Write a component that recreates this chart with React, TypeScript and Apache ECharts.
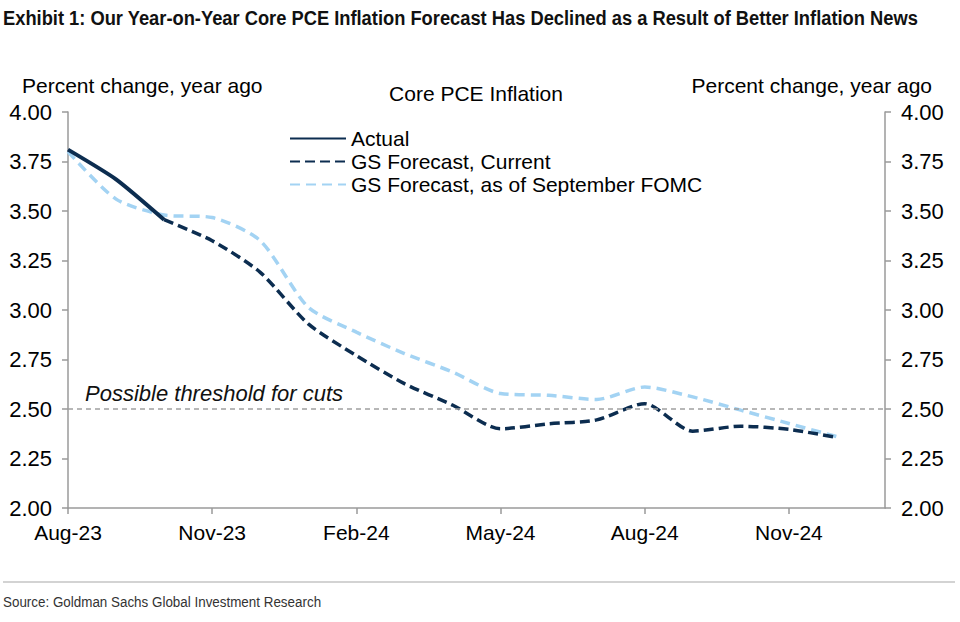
import React, { useEffect, useRef } from "react";
import * as echarts from "echarts";

const months = [
  "Aug-23", "Sep-23", "Oct-23", "Nov-23", "Dec-23", "Jan-24", "Feb-24", "Mar-24", "Apr-24",
  "May-24", "Jun-24", "Jul-24", "Aug-24", "Sep-24", "Oct-24", "Nov-24", "Dec-24", "Jan-25",
];
const actual = [3.81, 3.66, 3.456, null, null, null, null, null, null, null, null, null, null, null, null, null, null, null];
const gsCurrent = [null, null, 3.456, 3.35, 3.19, 2.93, 2.77, 2.628, 2.52, 2.40, 2.425, 2.445, 2.527, 2.388, 2.413, 2.397, 2.356, null];
const gsSeptember = [3.80, 3.56, 3.48, 3.467, 3.35, 3.014, 2.888, 2.78, 2.687, 2.578, 2.569, 2.548, 2.611, 2.561, 2.494, 2.427, 2.36, null];
const threshold = 2.5;

const FONT = "'Liberation Sans', Arial, Helvetica, sans-serif";
const DARK = "#0c2d50";
const LIGHT = "#a3d3f3";
const AXIS = "#9a9a9a";

export default function App() {
  const ref = useRef<HTMLDivElement>(null);
  useEffect(() => {
    if (!ref.current) return;
    const chart = echarts.init(ref.current, null, { renderer: "svg" });
    const yAxisCommon = {
      type: "value",
      min: 2,
      max: 4,
      interval: 0.25,
      splitLine: { show: false },
      axisLine: { show: true, lineStyle: { color: AXIS, width: 1.5 } },
      axisTick: { show: true, length: 6, lineStyle: { color: AXIS, width: 1.5 } },
      axisLabel: {
        margin: 16,
        fontSize: 22,
        color: "#000",
        fontFamily: FONT,
        formatter: (v: number) => v.toFixed(2),
      },
    };
    chart.setOption({
      animation: false,
      backgroundColor: "#fff",
      title: [
        {
          text: "Core PCE Inflation",
          left: 476,
          top: 83,
          textAlign: "center",
          padding: 0,
          textStyle: { fontFamily: FONT, fontWeight: "normal", fontSize: 21, color: "#000" },
        },
        {
          text: "Percent change, year ago",
          left: 22,
          top: 75,
          padding: 0,
          textStyle: { fontFamily: FONT, fontWeight: "normal", fontSize: 21, color: "#000" },
        },
        {
          text: "Percent change, year ago",
          right: 28,
          top: 75,
          padding: 0,
          textStyle: { fontFamily: FONT, fontWeight: "normal", fontSize: 21, color: "#000" },
        },
      ],
      graphic: [
        {
          type: "text",
          x: 3,
          y: 7,
          scaleX: 0.872,
          style: {
            text: "Exhibit 1: Our Year-on-Year Core PCE Inflation Forecast Has Declined as a Result of Better Inflation News",
            font: "bold 21px 'Liberation Sans', Arial, sans-serif",
            fill: "#111",
          },
        },
        {
          type: "line",
          shape: { x1: 3, y1: 582, x2: 955, y2: 582 },
          style: { stroke: "#c4c4c4", lineWidth: 1.5 },
        },
        {
          type: "text",
          x: 3,
          y: 594,
          scaleX: 0.894,
          style: {
            text: "Source: Goldman Sachs Global Investment Research",
            font: "15px 'Liberation Sans', Arial, sans-serif",
            fill: "#333",
          },
        },
      ],
      legend: {
        left: 289,
        top: 128,
        padding: 0,
        orient: "vertical",
        itemWidth: 56,
        itemHeight: 14,
        itemGap: 2,
        itemStyle: { opacity: 0 },
        textStyle: { fontFamily: FONT, fontSize: 21, color: "#000" },
        data: ["Actual", "GS Forecast, Current", "GS Forecast, as of September FOMC"],
      },
      grid: { left: 68, right: 75, top: 112, bottom: 114, containLabel: false },
      xAxis: {
        type: "category",
        data: months,
        boundaryGap: false,
        axisLine: { show: true, lineStyle: { color: AXIS, width: 1.5 } },
        axisTick: { show: true, interval: 2, length: 6, lineStyle: { color: AXIS, width: 1.5 } },
        axisLabel: { interval: 2, margin: 14, fontSize: 21, color: "#000", fontFamily: FONT },
        splitLine: { show: false },
      },
      yAxis: [
        { ...yAxisCommon, position: "left" },
        { ...yAxisCommon, position: "right" },
      ],
      series: [
        {
          name: "GS Forecast, as of September FOMC",
          type: "line",
          data: gsSeptember,
          symbol: "none",
          smooth: 0.25,
          lineStyle: { color: LIGHT, width: 3.5, type: [10, 6] },
          itemStyle: { color: LIGHT },
          markLine: {
            silent: true,
            symbol: "none",
            lineStyle: { color: "#a0a0a0", width: 1.5, type: [5, 4] },
            label: {
              show: true,
              position: "insideStartTop",
              distance: [17, 5],
              formatter: "Possible threshold for cuts",
              fontFamily: FONT,
              fontStyle: "italic",
              fontSize: 22,
              color: "#111",
            },
            data: [{ yAxis: threshold }],
          },
          z: 2,
        },
        {
          name: "GS Forecast, Current",
          type: "line",
          data: gsCurrent,
          symbol: "none",
          smooth: 0.25,
          lineStyle: { color: DARK, width: 3.5, type: [10, 5] },
          itemStyle: { color: DARK },
          z: 3,
        },
        {
          name: "Actual",
          type: "line",
          data: actual,
          symbol: "none",
          smooth: 0.2,
          lineStyle: { color: DARK, width: 4, type: "solid" },
          itemStyle: { color: DARK },
          z: 4,
        },
      ],
    });
    return () => chart.dispose();
  }, []);
  return <div ref={ref} style={{ width: 960, height: 622, position: "absolute", left: 0, top: 0 }} />;
}
